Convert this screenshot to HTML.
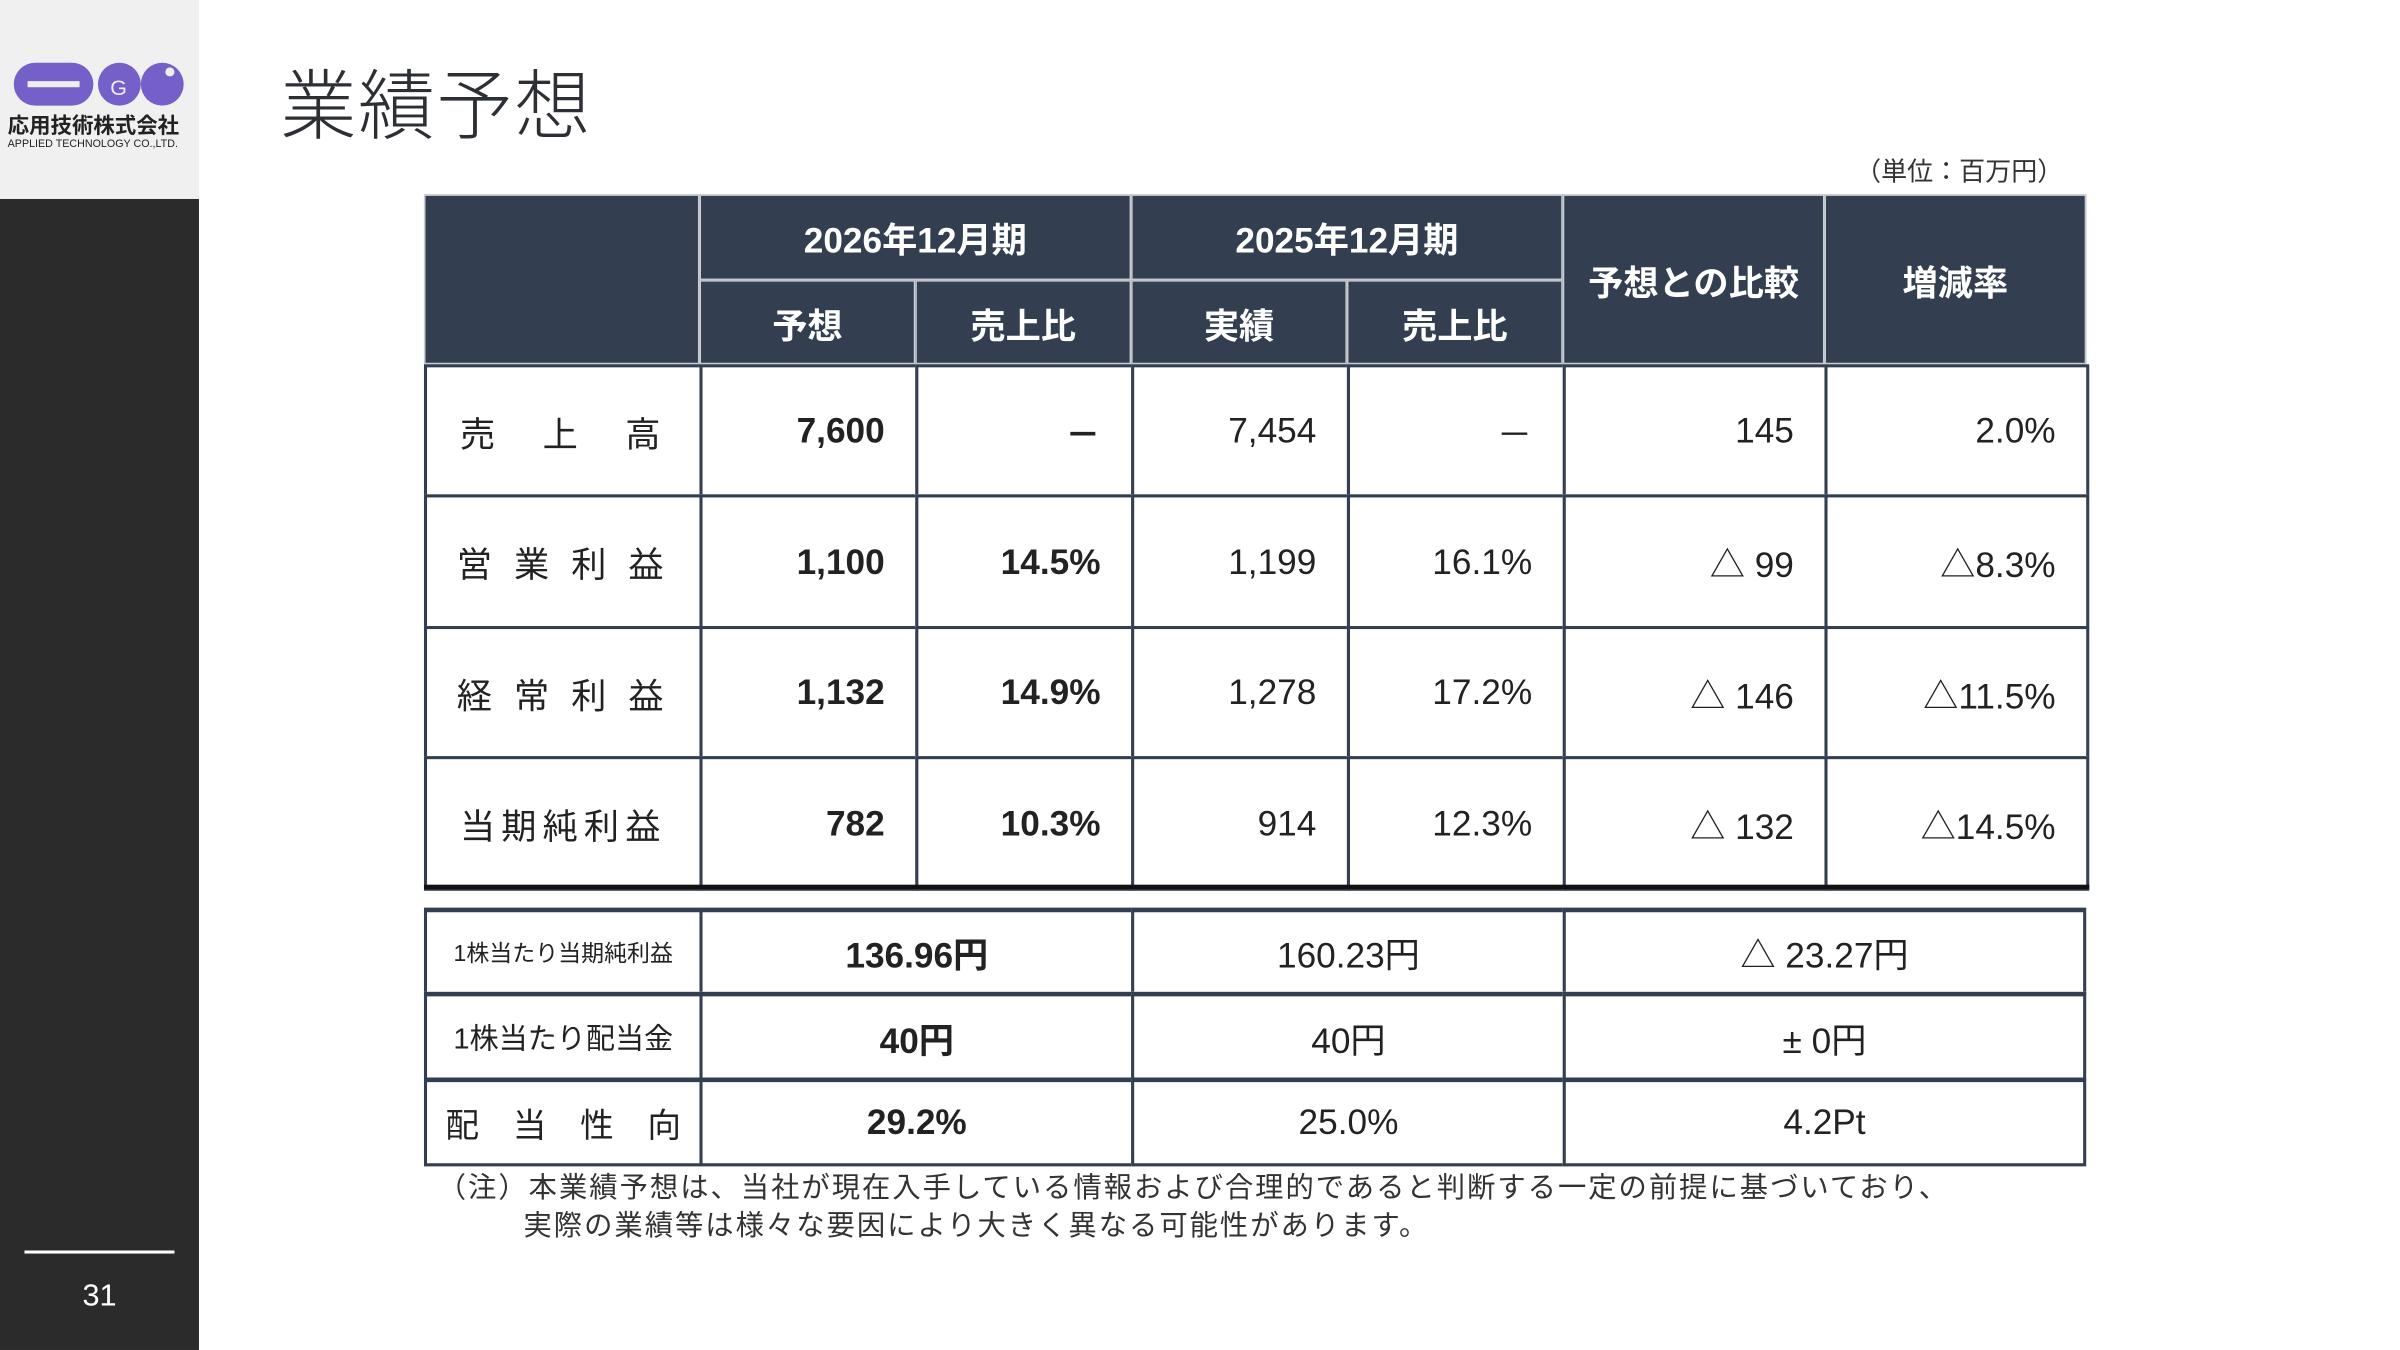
<!DOCTYPE html>
<html lang="ja"><head><meta charset="utf-8">
<style>
html,body{margin:0;padding:0;width:2400px;height:1350px;overflow:hidden;background:#fff;}
#s{position:absolute;left:0;top:0;width:1568px;height:882px;transform:scale(1.5306);transform-origin:0 0;font-family:"Liberation Sans","Noto Sans CJK JP",sans-serif;color:#222;}
.a{position:absolute;box-sizing:border-box;}
.c{position:absolute;box-sizing:border-box;display:flex;align-items:center;font-size:23px;}
.h{background:#333f50;color:#fff;font-weight:bold;justify-content:center;font-size:23px;}
.b{background:#fff;border:2px solid #333f50;}
</style></head><body>
<div id="s">
  <div class="a" style="left:0;top:0;width:130px;height:130px;background:#f0f0f0;">
    <svg width="130" height="60" style="position:absolute;left:0;top:36px">
      <rect x="9" y="5" width="52" height="28" rx="14" fill="#7460c8"/>
      <rect x="18" y="17" width="34" height="4" fill="#eee"/>
      <circle cx="78" cy="19" r="14" fill="#7460c8"/>
      <text x="72" y="26" font-size="14" fill="#eee" font-family="Liberation Sans">G</text>
      <circle cx="106" cy="19" r="14" fill="#7460c8"/>
      <circle cx="111" cy="11" r="3" fill="#eee"/>
    </svg>
    <div class="a" style="left:5px;top:72px;font-size:14px;font-weight:bold;white-space:nowrap;">応用技術株式会社</div>
    <div class="a" style="left:5px;top:91px;font-size:7px;white-space:nowrap;">APPLIED TECHNOLOGY CO.,LTD.</div>
  </div>
  <div class="a" style="left:0;top:130px;width:130px;height:752px;background:#2b2b2b;"></div>
  <div class="a" style="left:16px;top:817px;width:98px;height:2px;background:#fff;"></div>
  <div class="a" style="left:0;top:836px;width:130px;text-align:center;color:#fff;font-size:20px;">31</div>
  <div class="a" style="left:183px;top:30px;font-size:50px;font-weight:300;color:#2c3035;letter-spacing:1px;">業績予想</div>
  <div class="a" style="left:1212px;top:98px;font-size:17px;color:#333;">（単位：百万円）</div>
  <div class="a" style="left:286px;top:763px;font-size:18.5px;letter-spacing:1.3px;line-height:25px;color:#333;white-space:nowrap;">（注）本業績予想は、当社が現在入手している情報および合理的であると判断する一定の前提に基づいており、<br><span style="padding-left:56px">実際の業績等は様々な要因により大きく異なる可能性があります。</span></div>
</div>
<script>
const rowLabels=["売　上　高","営 業 利 益","経 常 利 益","当期純利益"];
const fc=["7,600","1,100","1,132","782"];
const fcRatio=["－","14.5%","14.9%","10.3%"];
const act=["7,454","1,199","1,278","914"];
const actRatio=["－","16.1%","17.2%","12.3%"];
const diff=["145","△ 99","△ 146","△ 132"];
const rate=["2.0%","△8.3%","△11.5%","△14.5%"];
const subLabels=["1株当たり当期純利益","1株当たり配当金","配　当　性　向"];
const subFc=["136.96円","40円","29.2%"];
const subAct=["160.23円","40円","25.0%"];
const subDiff=["△ 23.27円","± 0円","4.2Pt"];
const S=document.getElementById('s');
function cell(x,y,w,h,txt,cls,extra,name){
  const d=document.createElement('div');
  d.className='c '+cls;
  d.style.left=x+'px';d.style.top=y+'px';d.style.width=w+'px';d.style.height=h+'px';
  if(extra)d.style.cssText+=extra;
  d.textContent=txt;
  
  
  S.appendChild(d);return d;
}
const X=[277,457,598,739,880,1021,1192,1363];
const hb='border:1px solid #c8ccd2;';
cell(X[0],127,X[1]-X[0],111,'','h',hb,'header-corner');
cell(X[1],127,X[3]-X[1],56,'2026年12月期','h',hb,'header-2026');
cell(X[3],127,X[5]-X[3],56,'2025年12月期','h',hb,'header-2025');
cell(X[1],183,X[2]-X[1],55,'予想','h',hb,'header-forecast');
cell(X[2],183,X[3]-X[2],55,'売上比','h',hb,'header-ratio-2026');
cell(X[3],183,X[4]-X[3],55,'実績','h',hb,'header-actual');
cell(X[4],183,X[5]-X[4],55,'売上比','h',hb,'header-ratio-2025');
cell(X[5],127,X[6]-X[5],111,'予想との比較','h',hb,'header-diff');
cell(X[6],127,X[7]-X[6],111,'増減率','h',hb,'header-rate');
const Y=[238,323,409,494,580];
const R='justify-content:flex-end;padding-right:20px;';
for(let i=0;i<rowLabels.length;i++){
  const y=Y[i],h=Y[i+1]-Y[i]+2;
  cell(X[0],y,X[1]-X[0]+2,h,rowLabels[i],'b','justify-content:center;letter-spacing:4px;','row-label');
  cell(X[1],y,X[2]-X[1]+2,h,fc[i],'b',R+'font-weight:bold;','forecast-value');
  cell(X[2],y,X[3]-X[2]+2,h,fcRatio[i],'b',R+'font-weight:bold;','forecast-ratio');
  cell(X[3],y,X[4]-X[3]+2,h,act[i],'b',R,'actual-value');
  cell(X[4],y,X[5]-X[4]+2,h,actRatio[i],'b',R,'actual-ratio');
  cell(X[5],y,X[6]-X[5]+2,h,diff[i],'b',R,'diff-value');
  cell(X[6],y,X[7]-X[6]+2,h,rate[i],'b',R,'rate-value');
}
const line=document.createElement('div');line.className='a';
line.style.cssText='left:277px;top:578px;width:1088px;height:3px;background:#111;';


S.appendChild(line);
const SY=[593,648,704,760];
const SX=[277,457,739,1021,1363];
for(let i=0;i<subLabels.length;i++){
  const y=SY[i],h=SY[i+1]-SY[i]+2;
  cell(SX[0],y,SX[1]-SX[0]+2,h,subLabels[i],'b','justify-content:center;font-size:'+(i==0?15:i==1?19:22)+'px;white-space:nowrap;border-top:3px solid #333f50;','per-share-label');
  cell(SX[1],y,SX[2]-SX[1]+2,h,subFc[i],'b','justify-content:center;font-weight:bold;border-top:3px solid #333f50;','per-share-forecast');
  cell(SX[2],y,SX[3]-SX[2]+2,h,subAct[i],'b','justify-content:center;border-top:3px solid #333f50;','per-share-actual');
  cell(SX[3],y,SX[4]-SX[3],h,subDiff[i],'b','justify-content:center;border-top:3px solid #333f50;','per-share-diff');
}
</script>
</body></html>
